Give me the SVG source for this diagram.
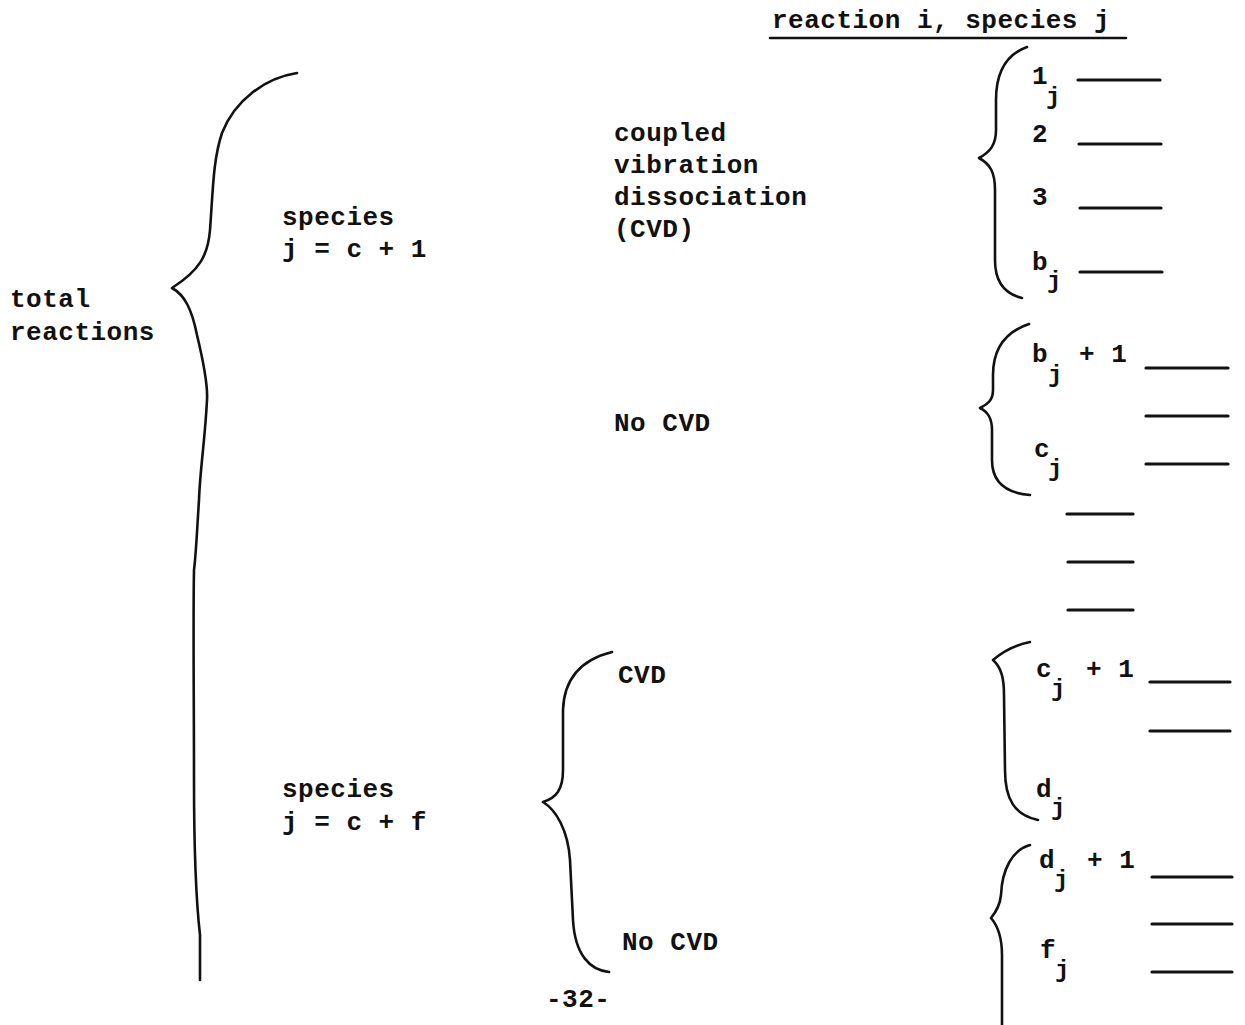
<svg xmlns="http://www.w3.org/2000/svg" width="1245" height="1025" viewBox="0 0 1245 1025">
<style>
text{font-family:"Liberation Mono","DejaVu Sans Mono",monospace;font-weight:bold;font-size:26px;letter-spacing:0.5px;fill:#111}
.sub{font-size:24px}
.br{fill:none;stroke:#111;stroke-width:2.6;stroke-linecap:round;stroke-linejoin:round}
.rule{stroke:#111;stroke-width:3.2;stroke-linecap:round}
</style>
<rect width="1245" height="1025" fill="#fff"/>
<g id="header">
<text x="772" y="28">reaction i, species j</text>
<line class="rule" x1="770" y1="38" x2="1126" y2="38" style="stroke-width:2.6"/>
</g>
<g id="connectors">
<path class="br" d="M297,73 C265,78 235,100 222,133 C213,160 213,190 210,230 C208,255 200,270 172,288 C185,295 192,310 197,335 C203,360 208,385 207,400 C205,440 200,470 199,500 C197,530 196,555 194,570 C193,620 194,700 194,780 C194,850 196,900 200,935 L200,980"/>
<path class="br" d="M1027,47 C1005,55 996,75 996,100 L996,130 C996,145 990,152 979,158 C990,164 995,172 995,190 L995,260 C995,282 1005,294 1022,298"/>
<path class="br" d="M1029,324 C1005,332 993,350 993,375 L993,390 C993,400 988,404 980,408 C988,412 992,418 992,430 L992,460 C992,482 1005,493 1030,495"/>
<path class="br" d="M1030,642 C1015,645 1002,652 993,660 C1002,668 1004,680 1004,695 L1005,770 C1005,800 1015,815 1038,820"/>
<path class="br" d="M1030,845 C1012,850 1002,870 1001,895 C1000,905 996,912 991,918 C997,925 1002,935 1002,955 L1002,1025"/>
<path class="br" d="M612,652 C580,660 564,680 563,710 L563,770 C563,790 556,798 543,802 C556,810 568,830 570,860 L573,920 C575,955 590,970 609,972"/>
<line class="rule" x1="1078" y1="80" x2="1160" y2="80"/>
<line class="rule" x1="1079" y1="144" x2="1161" y2="144"/>
<line class="rule" x1="1080" y1="208" x2="1161" y2="208"/>
<line class="rule" x1="1080" y1="272" x2="1162" y2="272"/>
<line class="rule" x1="1146" y1="368" x2="1228" y2="368"/>
<line class="rule" x1="1146" y1="416" x2="1228" y2="416"/>
<line class="rule" x1="1146" y1="464" x2="1228" y2="464"/>
<line class="rule" x1="1067" y1="514" x2="1133" y2="514"/>
<line class="rule" x1="1068" y1="562" x2="1133" y2="562"/>
<line class="rule" x1="1068" y1="610" x2="1133" y2="610"/>
<line class="rule" x1="1150" y1="682" x2="1230" y2="682"/>
<line class="rule" x1="1150" y1="731" x2="1230" y2="731"/>
<line class="rule" x1="1152" y1="877" x2="1232" y2="877"/>
<line class="rule" x1="1152" y1="924" x2="1232" y2="924"/>
<line class="rule" x1="1152" y1="972" x2="1232" y2="972"/>
</g>
<g id="total-reactions">
<text x="10" y="307">total</text>
<text x="10" y="340">reactions</text>
</g>
<g id="species-c1">
<text x="282" y="225">species</text>
<text x="282" y="257">j = c + 1</text>
</g>
<g id="species-cf">
<text x="282" y="797">species</text>
<text x="282" y="830">j = c + f</text>
</g>
<g id="cvd-top">
<text x="614" y="141">coupled</text>
<text x="614" y="173">vibration</text>
<text x="614" y="205">dissociation</text>
<text x="614" y="237">(CVD)</text>
</g>
<g id="nocvd-top"><text x="614" y="431">No CVD</text></g>
<g id="cvd-bottom"><text x="618" y="683">CVD</text></g>
<g id="nocvd-bottom"><text x="622" y="950">No CVD</text></g>
<g id="reactions-1">
<text x="1032" y="84">1</text><text class="sub" x="1046" y="104">j</text>
<text x="1032" y="142">2</text>
<text x="1032" y="205">3</text>
<text x="1032" y="270">b</text><text class="sub" x="1047" y="288">j</text>
</g>
<g id="reactions-2">
<text x="1032" y="362">b</text><text class="sub" x="1048" y="382">j</text><text x="1079" y="362">+ 1</text>
<text x="1034" y="457">c</text><text class="sub" x="1048" y="476">j</text>
</g>
<g id="reactions-3">
<text x="1036" y="677">c</text><text class="sub" x="1051" y="696">j</text><text x="1086" y="677">+ 1</text>
<text x="1036" y="797">d</text><text class="sub" x="1051" y="815">j</text>
</g>
<g id="reactions-4">
<text x="1039" y="868">d</text><text class="sub" x="1054" y="887">j</text><text x="1087" y="868">+ 1</text>
<text x="1040" y="958">f</text><text class="sub" x="1055" y="977">j</text>
</g>
<g id="page"><text x="546" y="1007">-32-</text></g>
</svg>
